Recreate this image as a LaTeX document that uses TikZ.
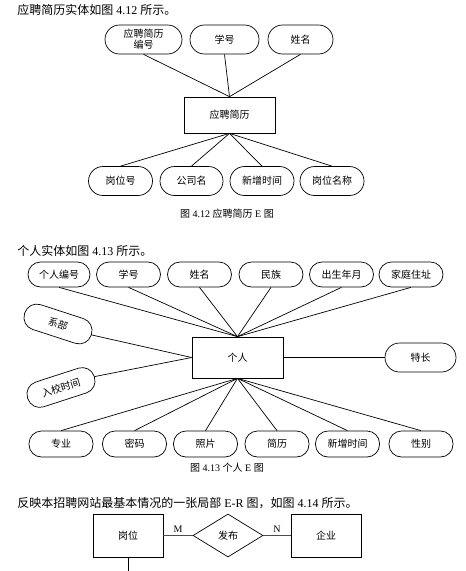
\documentclass[tikz,border=0pt]{standalone}
\usepackage{fontspec}
\setmainfont{Liberation Serif}
\newfontfamily\cjk{Noto Sans CJK SC}
\usetikzlibrary{shapes.geometric}
\newcommand{\zh}[1]{{\cjk #1}}

\begin{document}
\begin{tikzpicture}[
  x=1pt, y=-1pt,
  line width=0.7pt,
  attrib/.style={rectangle, draw, rounded corners=12.5pt, minimum width=64pt, minimum height=25pt, inner sep=1pt, align=center, font=\cjk\fontsize{10}{11}\selectfont},
  bigattrib/.style={attrib, rounded corners=14.5pt, minimum height=29pt},
  entity/.style={rectangle, draw, minimum width=91pt, minimum height=36pt, inner sep=1pt, font=\cjk\fontsize{10}{11}\selectfont},
  relation/.style={diamond, draw, aspect=1.6, minimum width=70pt, minimum height=43pt, inner sep=0pt, font=\cjk\fontsize{10}{11}\selectfont},
  heading/.style={anchor=west, inner sep=0pt, font=\fontsize{12}{14}\selectfont},
  caption/.style={inner sep=0pt, font=\fontsize{10}{12}\selectfont},
  card/.style={inner sep=0pt, font=\fontsize{10}{12}\selectfont},
  link/.style={draw, line width=0.7pt},
  rellink/.style={draw=black!70, line width=1.2pt}
]
  \fill[white] (0,0) rectangle (466,571);
  \useasboundingbox (0,0) rectangle (466,571);

  \node[heading] (h1) at (17,10) {\zh{应聘简历实体如图} 4.12 \zh{所示。}};
  \node[bigattrib, minimum width=77pt] (rbh) at (143.5,39.5) {应聘简历\\编号};
  \node[bigattrib, minimum width=69pt] (rxh) at (224.5,39.5) {学号};
  \node[bigattrib, minimum width=65pt] (rxm) at (300.5,39.5) {姓名};
  \node[entity] (resume) at (229.5,115) {应聘简历};
  \node[bigattrib] (rgwh) at (120.5,181) {岗位号};
  \node[bigattrib, minimum width=63pt] (rgsm) at (191.5,181) {公司名};
  \node[bigattrib] (rxzsj) at (262,181) {新增时间};
  \node[bigattrib] (rgwmc) at (332,181) {岗位名称};
  \draw[link] (rbh.south) -- (resume.north);
  \draw[link] (rxh.south) -- (resume.north);
  \draw[link] (rxm.south) -- (resume.north);
  \draw[link] (resume.south) -- (rgwh.north);
  \draw[link] (resume.south) -- (rgsm.north);
  \draw[link] (resume.south) -- (rxzsj.north);
  \draw[link] (resume.south) -- (rgwmc.north);
  \node[caption] (c1) at (227,214) {\zh{图} 4.12 \zh{应聘简历} E \zh{图}};

  \node[heading] (h2) at (17,251) {\zh{个人实体如图} 4.13 \zh{所示。}};
  \node[attrib, minimum width=62pt] (pbh) at (59,274.5) {个人编号};
  \node[attrib] (pxh) at (128.5,274.5) {学号};
  \node[attrib] (pxm) at (199.5,274.5) {姓名};
  \node[attrib] (pmz) at (271,274.5) {民族};
  \node[attrib] (pcs) at (341.5,274.5) {出生年月};
  \node[attrib] (pjt) at (411,274.5) {家庭住址};
  \node[attrib, minimum width=70pt, minimum height=26pt, rotate=-18] (pxb) at (58,324) {系部};
  \node[attrib, minimum width=70pt, minimum height=26pt, rotate=18] (prx) at (61,387.5) {入校时间};
  \node[entity, minimum height=41pt] (person) at (237.5,357.5) {个人};
  \node[bigattrib, minimum width=71pt] (ptc) at (420.5,357.5) {特长};
  \node[attrib, minimum height=26pt] (pzy) at (61,444) {专业};
  \node[attrib, minimum height=26pt] (pmm) at (134.5,444) {密码};
  \node[attrib, minimum height=26pt] (pzp) at (205.5,444) {照片};
  \node[attrib, minimum height=26pt] (pjl) at (277,444) {简历};
  \node[attrib, minimum height=26pt] (pxz) at (347.5,444) {新增时间};
  \node[attrib, minimum height=26pt] (pxbie) at (421,444) {性别};
  \draw[link] (pbh.south) -- (person.north);
  \draw[link] (pxh.south) -- (person.north);
  \draw[link] (pxm.south) -- (person.north);
  \draw[link] (pmz.south) -- (person.north);
  \draw[link] (pcs.south) -- (person.north);
  \draw[link] (pjt.south) -- (person.north);
  \draw[link] (pxb.east) -- (person.west);
  \draw[link] (prx.east) -- (person.west);
  \draw[link] (person.east) -- (ptc.west);
  \draw[link] (person.south) -- (pzy.north);
  \draw[link] (person.south) -- (pmm.north);
  \draw[link] (person.south) -- (pzp.north);
  \draw[link] (person.south) -- (pjl.north);
  \draw[link] (person.south) -- (pxz.north);
  \draw[link] (person.south) -- (pxbie.north);
  \node[caption] (c2) at (227,468) {\zh{图} 4.13 \zh{个人} E \zh{图}};

  \node[heading] (h3) at (17,503) {\zh{反映本招聘网站最基本情况的一张局部} E-R \zh{图，如图} 4.14 \zh{所示。}};
  \node[entity, minimum width=70pt, minimum height=43pt] (post) at (128,535.5) {岗位};
  \node[relation] (publish) at (228,535.5) {发布};
  \node[entity, minimum width=70pt, minimum height=43pt] (firm) at (326,535.5) {企业};
  \coordinate (postdown) at (128,580);
  \draw[rellink] (post.east) -- node[card, above=2pt] {M} (publish.west);
  \draw[rellink] (publish.east) -- node[card, above=2pt] {N} (firm.west);
  \draw[link] (post.south) -- (postdown);
\end{tikzpicture}
\end{document}
